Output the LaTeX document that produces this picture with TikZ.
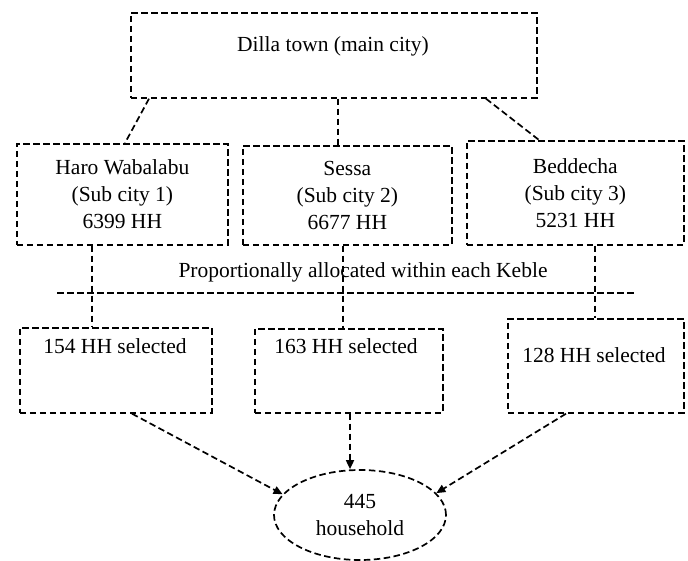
\documentclass[tikz,border=0pt]{standalone}
\usepackage{fontspec}
\setmainfont{Liberation Serif}
\usetikzlibrary{shapes.geometric, arrows.meta}

\begin{document}
\begin{tikzpicture}[x=1pt, y=-1pt,
    dashbox/.style={draw, dash pattern=on 6.5pt off 3.5pt, line width=1.7pt, align=center, inner sep=0pt},
    link/.style={dash pattern=on 6.5pt off 3.5pt, line width=1.7pt},
    arrowlink/.style={link, -{Triangle[length=9pt, width=8pt]}},
    font=\fontsize{21.5}{27}\selectfont]

    \useasboundingbox (0,0) rectangle (688,561);

    % main city on top
    \node[dashbox, minimum width=406, minimum height=85, anchor=north west] (town) at (130,12) {};
    \node (towntxt) at (333,46) {Dilla town (main city)};

    % the three sub cities
    \node[dashbox, minimum width=211, minimum height=101, anchor=north west] (sub1) at (16,143) {Haro Wabalabu\\(Sub city 1)\\6399 HH};
    \node[dashbox, minimum width=209, minimum height=99, anchor=north west] (sub2) at (242,145) {Sessa\\(Sub city 2)\\6677 HH};
    \node[dashbox, minimum width=217, minimum height=104, anchor=north west] (sub3) at (466,140) {Beddecha\\(Sub city 3)\\5231 HH};

    % selected households per sub city
    \node[dashbox, minimum width=192, minimum height=85, anchor=north west] (sel1) at (19,327) {};
    \node[dashbox, minimum width=188, minimum height=84, anchor=north west] (sel2) at (254,328) {};
    \node[dashbox, minimum width=176, minimum height=94, anchor=north west] (sel3) at (507,318) {};
    \node (sel1txt) at (115,346) {154 HH selected};
    \node (sel2txt) at (346,346) {163 HH selected};
    \node (sel3txt) at (594,355) {128 HH selected};

    % total sample
    \node[dashbox, ellipse, minimum width=172, minimum height=90] (total) at (360,515) {445\\household};

    % allocation text and line
    \node (alloc) at (363,272) {Proportionally allocated within each Keble};
    \coordinate (lineleft) at (57,293);
    \coordinate (lineright) at (634,293);
    \draw[link] (lineleft) -- (lineright);

    % links from the town to the sub cities
    \coordinate (k1) at (149,0);
    \coordinate (k2) at (338,0);
    \coordinate (k3) at (486,0);
    \draw[link] (town.south -| k1) -- (sub1.north -| 125,0);
    \draw[link] (town.south -| k2) -- (sub2.north -| k2);
    \draw[link] (town.south -| k3) -- (sub3.north -| 539,0);

    % links from the sub cities down to the selections
    \coordinate (d1) at (92,0);
    \coordinate (d2) at (343,0);
    \coordinate (d3) at (595,0);
    \draw[link] (sub1.south -| d1) -- (sel1.north -| d1);
    \draw[link] (sub2.south -| d2) -- (sel2.north -| d2);
    \draw[link] (sub3.south -| d3) -- (sel3.north -| d3);

    % arrows into the total
    \draw[arrowlink] (sel1.south -| 132,0) -- (total.165);
    \draw[arrowlink] (sel2.south -| 350,0) -- (total.north -| 350,0);
    \draw[arrowlink] (sel3.south -| 566,0) -- (total.16);

\end{tikzpicture}
\end{document}
